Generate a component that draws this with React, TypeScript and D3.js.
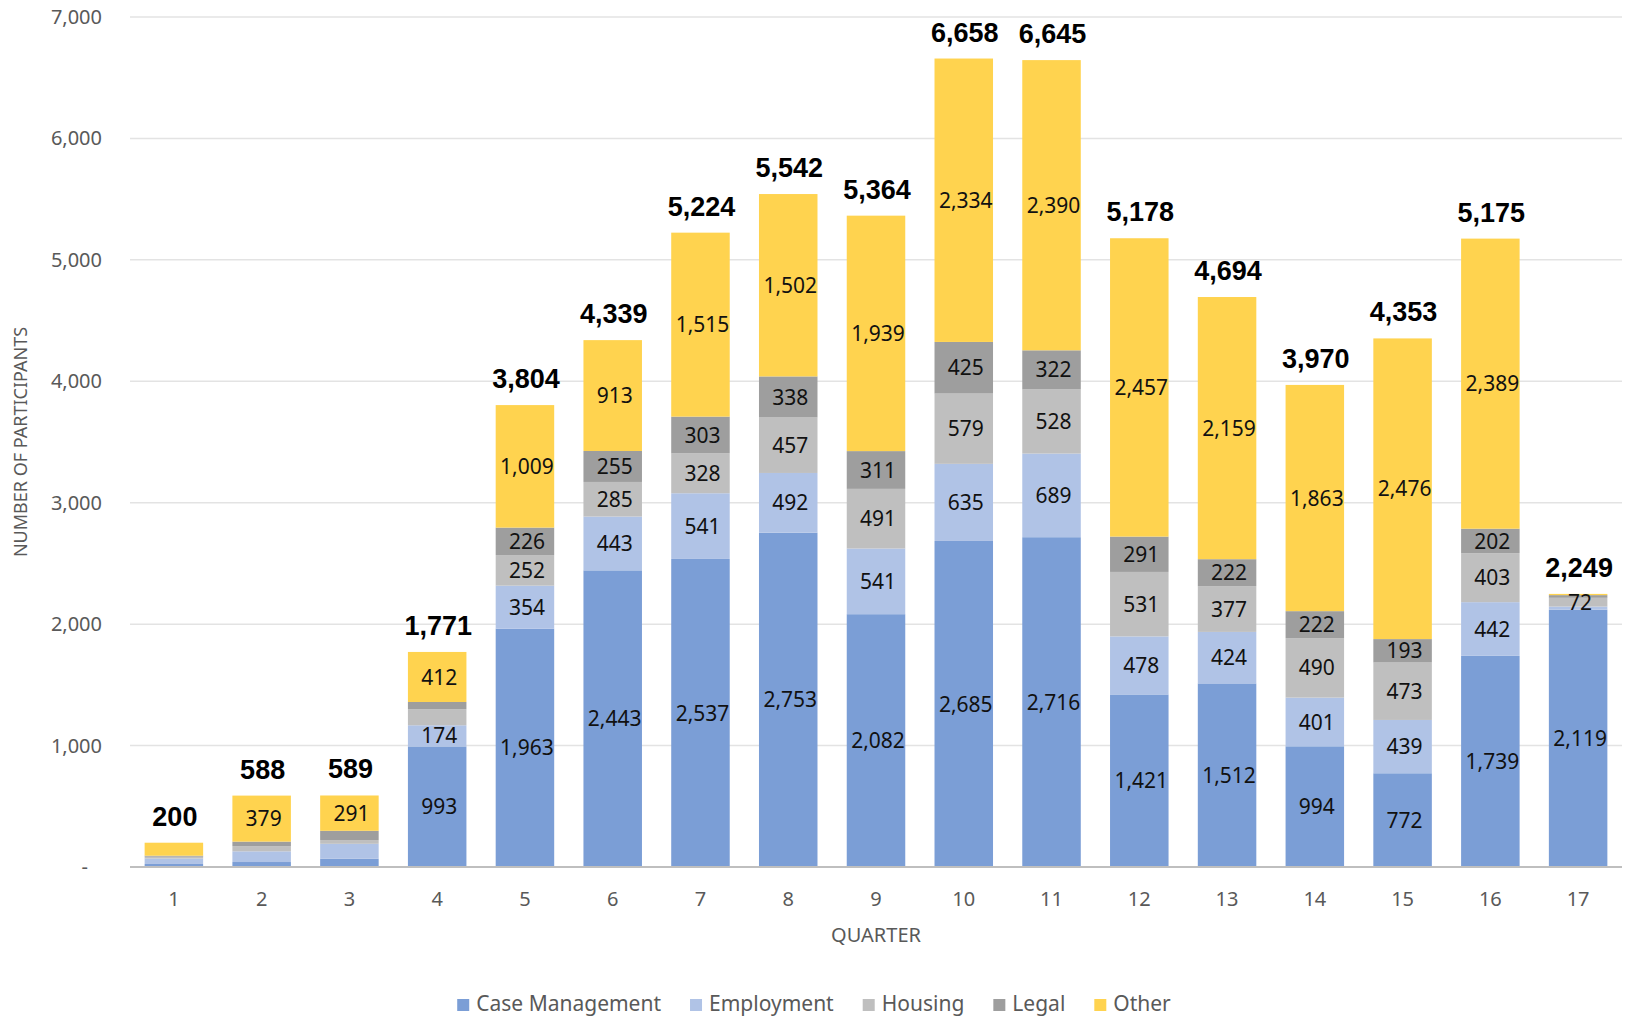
import React, { useEffect, useRef } from 'react';
import * as d3 from 'd3';

const quarters = ['1', '2', '3', '4', '5', '6', '7', '8', '9', '10', '11', '12', '13', '14', '15', '16', '17'];
const seriesNames = ['Case Management', 'Employment', 'Housing', 'Legal', 'Other'];
const caseManagement = [25, 41, 69, 993, 1963, 2443, 2537, 2753, 2082, 2685, 2716, 1421, 1512, 994, 772, 1739, 2119];
const employment = [45, 88, 122, 174, 354, 443, 541, 492, 541, 635, 689, 478, 424, 401, 439, 442, 26];
const housing = [15, 43, 28, 132, 252, 285, 328, 457, 491, 579, 528, 531, 377, 490, 473, 403, 72];
const legal = [8, 37, 79, 60, 226, 255, 303, 338, 311, 425, 322, 291, 222, 222, 193, 202, 22];
const other = [107, 379, 291, 412, 1009, 913, 1515, 1502, 1939, 2334, 2390, 2457, 2159, 1863, 2476, 2389, 10];
const yTicks = [0, 1000, 2000, 3000, 4000, 5000, 6000, 7000];
// segments whose value label is not shown in the original chart
const hiddenLabels = [
  '1:Case Management', '1:Employment', '1:Housing', '1:Legal', '1:Other',
  '2:Case Management', '2:Employment', '2:Housing', '2:Legal',
  '3:Case Management', '3:Employment', '3:Housing', '3:Legal',
  '4:Housing', '4:Legal',
  '17:Employment', '17:Legal', '17:Other',
];

const colors = ['#7b9ed6', '#b0c3e6', '#bfbfbf', '#9e9e9e', '#ffd34f'];
const W = 1628;
const H = 1016;

export default function App() {
  const svgRef = useRef<SVGSVGElement>(null);

  useEffect(() => {
    document.body.style.margin = '0';
    if (!svgRef.current) return;
    const svg = d3.select(svgRef.current);
    svg.selectAll('*').remove();

    const left = 130, right = 1622, top = 17, bottom = 867;
    const values = [caseManagement, employment, housing, legal, other];
    const rows = quarters.map((q, i) => {
      const r: any = { quarter: q };
      seriesNames.forEach((s, k) => (r[s] = values[k][i]));
      return r;
    });
    const totals = quarters.map((_, i) => d3.sum(values, v => v[i]));

    const x = d3.scaleBand().domain(quarters).range([left, right]).paddingInner(1 / 3).paddingOuter(1 / 6);
    const y = d3.scaleLinear().domain([0, 7000]).range([bottom, top]);
    const color = d3.scaleOrdinal<string, string>().domain(seriesNames).range(colors);
    const fmt = d3.format(',');

    // grid
    svg.append('g')
      .selectAll('line')
      .data(yTicks.filter(t => t > 0))
      .join('line')
      .attr('x1', left).attr('x2', right)
      .attr('y1', d => y(d)).attr('y2', d => y(d))
      .attr('stroke', '#e3e3e3').attr('stroke-width', 1.5);

    // y tick labels
    svg.append('g')
      .selectAll('text')
      .data(yTicks)
      .join('text')
      .attr('x', d => (d === 0 ? 88 : 102))
      .attr('y', d => y(d))
      .attr('dy', '0.35em')
      .attr('text-anchor', 'end')
      .attr('font-family', 'Noto Sans')
      .attr('font-size', 20)
      .attr('fill', '#595959')
      .text(d => (d === 0 ? '-' : fmt(d)));

    const stack = d3.stack<any>().keys(seriesNames)(rows);

    const layers = svg.append('g')
      .selectAll('g')
      .data(stack)
      .join('g')
      .attr('fill', d => color(d.key));

    layers.selectAll('rect')
      .data(d => d)
      .join('rect')
      .attr('x', d => x(d.data.quarter)!)
      .attr('width', x.bandwidth())
      .attr('y', d => y(d[1]))
      .attr('height', d => y(d[0]) - y(d[1]));

    // segment labels
    svg.append('g')
      .selectAll('g')
      .data(stack)
      .join('g')
      .each(function (layer) {
        d3.select(this)
          .selectAll('text')
          .data(layer.filter(d => !hiddenLabels.includes(`${d.data.quarter}:${layer.key}`)))
          .join('text')
          .attr('x', d => x(d.data.quarter)! + x.bandwidth() / 2 + 2)
          .attr('y', d => (y(d[0]) + y(d[1])) / 2)
          .attr('dy', '0.36em')
          .attr('text-anchor', 'middle')
          .attr('font-family', 'Noto Sans')
          .attr('font-size', 21)
          .attr('fill', '#111')
          .text(d => fmt(d[1] - d[0]));
      });

    // baseline
    svg.append('line')
      .attr('x1', left).attr('x2', right)
      .attr('y1', bottom).attr('y2', bottom)
      .attr('stroke', '#bfbfbf').attr('stroke-width', 2);

    // totals
    svg.append('g')
      .selectAll('text')
      .data(quarters)
      .join('text')
      .attr('x', (q) => x(q)! + x.bandwidth() / 2 + 1)
      .attr('y', (_, i) => y(totals[i]) - 17)
      .attr('text-anchor', 'middle')
      .attr('font-family', 'Liberation Sans, Arial')
      .attr('font-weight', 'bold')
      .attr('font-size', 27)
      .attr('fill', '#000')
      .text((_, i) => fmt(totals[i]));

    // x tick labels
    svg.append('g')
      .selectAll('text')
      .data(quarters)
      .join('text')
      .attr('x', q => x(q)! + x.bandwidth() / 2)
      .attr('y', 906)
      .attr('text-anchor', 'middle')
      .attr('font-family', 'Noto Sans')
      .attr('font-size', 20)
      .attr('fill', '#595959')
      .text(q => q);

    // axis titles
    svg.append('text')
      .attr('x', (left + right) / 2)
      .attr('y', 942)
      .attr('text-anchor', 'middle')
      .attr('font-family', 'Noto Sans')
      .attr('font-size', 20)
      .attr('fill', '#595959')
      .text('QUARTER');

    svg.append('text')
      .attr('transform', `translate(27,${(top + bottom) / 2}) rotate(-90)`)
      .attr('text-anchor', 'middle')
      .attr('font-family', 'Noto Sans')
      .attr('font-size', 18)
      .attr('fill', '#595959')
      .text('NUMBER OF PARTICIPANTS');

    // legend
    const legend = svg.append('g');
    const items = legend.selectAll('g')
      .data(seriesNames)
      .join('g');
    items.append('rect')
      .attr('width', 12).attr('height', 12)
      .attr('y', -12)
      .attr('fill', d => color(d));
    items.append('text')
      .attr('x', 19)
      .attr('y', 0)
      .attr('font-family', 'Noto Sans')
      .attr('font-size', 21)
      .attr('fill', '#595959')
      .text(d => d);
    let cx = 0;
    const offsets: number[] = [];
    items.each(function () {
      const t = d3.select(this).select('text').node() as SVGTextElement;
      offsets.push(cx);
      cx += 19 + t.getComputedTextLength() + 29;
    });
    const total = cx - 29;
    items.attr('transform', (_, i) => `translate(${offsets[i]},0)`);
    legend.attr('transform', `translate(${W / 2 - total / 2},1011)`);
  }, []);

  return <svg ref={svgRef} width={W} height={H} style={{ display: 'block', background: '#fff' }} />;
}
